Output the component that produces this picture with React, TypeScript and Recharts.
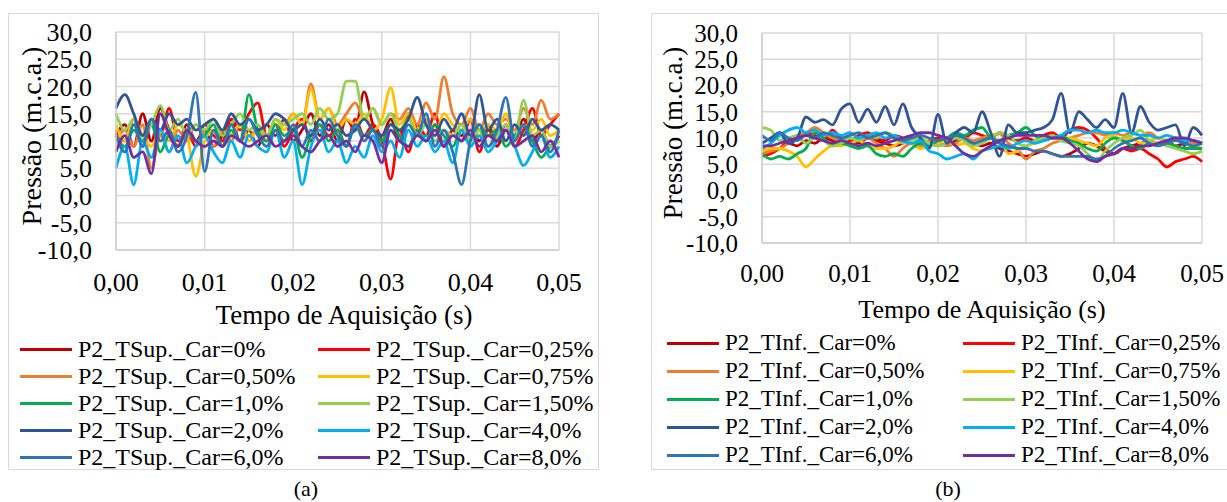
import React from 'react'
import { LineChart, Line, XAxis, YAxis, CartesianGrid, Legend } from 'recharts'

const FONT = '"Liberation Serif", "Times New Roman", serif'

// time axis (s)
const times = [
  0, 0.001, 0.002, 0.003, 0.004, 0.005, 0.006, 0.007, 0.008, 0.009,
  0.01, 0.011, 0.012, 0.013, 0.014, 0.015, 0.016, 0.017, 0.018, 0.019,
  0.02, 0.021, 0.022, 0.023, 0.024, 0.025, 0.026, 0.027, 0.028, 0.029,
  0.03, 0.031, 0.032, 0.033, 0.034, 0.035, 0.036, 0.037, 0.038, 0.039,
  0.04, 0.041, 0.042, 0.043, 0.044, 0.045, 0.046, 0.047, 0.048, 0.049,
  0.05,
]

const xTicks = [0, 0.01, 0.02, 0.03, 0.04, 0.05]
const yTicks = [-10, -5, 0, 5, 10, 15, 20, 25, 30]

const colors = ['#C00000', '#FF0000', '#ED7D31', '#FFC000', '#00B050', '#92D050', '#2F5597', '#00B0F0', '#2E75B6', '#7030A0']
const cargas = ['0%', '0,25%', '0,50%', '0,75%', '1,0%', '1,50%', '2,0%', '4,0%', '6,0%', '8,0%']
const supNames = cargas.map(c => `P2_TSup._Car=${c}`)
const infNames = cargas.map(c => `P2_TInf._Car=${c}`)

// (a) tomada superior
const sup0 = [11, 13, 9, 15, 10, 16, 12, 9, 13, 10, 12, 9, 11, 14, 10, 12, 9, 13, 11, 14, 10, 12, 15, 11, 13, 10, 14, 12, 19, 13, 11, 14, 10, 15, 12, 10, 13, 9, 12, 11, 14, 10, 13, 9, 12, 11, 14, 10, 12, 9, 11]
const sup025 = [12, 10, 14, 9, 13, 11, 16, 10, 12, 9, 13, 11, 10, 14, 12, 15, 17, 11, 13, 9, 12, 14, 10, 13, 11, 12, 9, 14, 11, 13, 10, 3, 12, 8, 13, 11, 15, 9, 12, 10, 14, 8, 12, 10, 13, 9, 12, 16, 11, 13, 15]
const sup050 = [10, 12, 9, 13, 5, 11, 8, 12, 10, 13, 11, 9, 12, 10, 13, 11, 12, 10, 14, 13, 15, 13, 20.5, 14, 16, 13, 15, 17, 14, 16, 13, 15, 14, 16, 13, 17, 14, 21.8, 15, 13, 16, 12, 15, 13, 14, 12, 16, 13, 17.5, 14, 15]
const sup075 = [13, 10, 14, 11, 9, 12, 10, 13, 11, 3.5, 10, 12, 9, 11, 13, 10, 12, 11, 14, 12, 15, 13, 19.5, 14, 16, 12, 14, 13, 15, 12, 14, 19.8, 13, 15, 12, 14, 11, 15, 13, 12, 14, 11, 13, 12, 15, 10, 13, 12, 14, 11, 12]
const sup1 = [11, 9, 12, 10, 13, 8, 11, 9, 12, 10, 11, 13, 9, 12, 10, 18.5, 12, 10, 13, 11, 12, 7, 11, 13, 10, 12, 9, 13, 11, 12, 10, 13, 11, 9, 12, 10, 13, 11, 9, 12, 10, 13, 11, 12, 9, 11, 13, 10, 7, 9, 10]
const sup150 = [15, 12, 14, 11, 13, 16.5, 12, 14, 11, 13, 12, 14, 11, 13, 15, 12, 13, 11, 14, 13, 14, 15, 13, 16, 14, 15, 21, 21, 14, 16, 13, 15, 12, 14, 11, 13, 10, 12, 11, 13, 10, 12, 9, 11, 13, 10, 17.5, 11, 12, 9, 10]
const sup2 = [16, 18.5, 15, 11, 14, 12, 15, 13, 14, 12, 13, 14, 12, 15, 13, 14, 12, 13, 15, 14, 12, 13, 11, 14, 12, 13, 11, 12, 14, 12, 11, 13, 12, 14, 18, 13, 11, 14, 12, 15, 11, 18.5, 12, 14, 10, 13, 11, 14, 12, 13, 12]
const sup4 = [5, 9, 2, 10, 7, 12, 8, 11, 6, 9, 11, 8, 6, 10, 7, 11, 9, 8, 12, 7, 10, 2, 9, 12, 8, 10, 6, 9, 7, 11, 8, 10, 7, 12, 9, 11, 8, 10, 6, 12, 9, 11, 8, 10, 12, 9, 5.5, 8, 11, 7, 9]
const sup6 = [11, 8, 13, 9, 14, 10, 12, 8, 11, 18.9, 4.4, 12, 9, 13, 10, 14, 11, 9, 12, 10, 13, 9, 12, 10, 14, 11, 9, 13, 10, 12, 9, 12, 10, 13, 11, 15, 9, 12, 8, 2, 10, 13, 9, 12, 18, 10, 13, 9, 11, 8, 12]
const sup8 = [8, 11, 7, 8, 4, 15, 11, 9, 12, 10, 9, 10, 9, 11, 10, 9, 10, 11, 9, 10, 11, 9, 8, 10, 11, 9, 10, 8, 11, 10, 6, 12, 10, 9, 11, 10, 12, 9, 11, 10, 12, 9, 11, 10, 12, 9, 10, 11, 8, 10, 7]

// (b) tomada inferior
const inf0 = [7, 7.5, 8, 9, 8.5, 9.5, 9, 10, 9.5, 9, 9.5, 9, 10, 9.5, 9, 8.5, 9, 10, 9.5, 9, 8.5, 9, 9.5, 10, 9, 8.5, 9, 8, 7.5, 7, 6.5, 7, 7.5, 7, 6.5, 7, 8, 9, 8.5, 7.5, 7, 8, 8.5, 9, 9.5, 9, 9.5, 8.5, 9, 9.5, 9]
const inf025 = [6.5, 7, 8, 9.5, 10, 11, 10.5, 9.5, 11.5, 10, 9.5, 10.5, 11, 10, 9.5, 10.5, 10, 9, 8.5, 9.5, 10, 9.5, 10.5, 10, 11, 10.5, 10, 11, 10, 9.5, 10, 9.5, 10.5, 11, 10, 11.5, 12, 11.5, 10, 8, 7, 8, 7.5, 8, 7, 6, 4.5, 5.5, 6, 6.5, 5.5]
const inf050 = [7, 7.5, 8, 9, 10.5, 11, 12, 11, 10, 9.5, 10, 9.5, 10, 9, 8, 6.5, 8, 9, 8.5, 9.5, 9, 8.5, 9, 10, 9.5, 10, 10.5, 10.8, 9, 8, 6, 7.5, 8, 9, 9.5, 10, 10.5, 11, 11, 10.5, 11, 10.5, 11, 10.5, 11, 10, 9.5, 10, 9.5, 9, 9]
const inf075 = [7.5, 8, 8, 7.5, 6.5, 4.5, 6, 7.5, 8.5, 8.5, 9, 9.5, 8.5, 8, 8, 8.5, 9.5, 9, 8, 8.5, 9, 9.5, 8.5, 9, 8, 7.5, 8.5, 9.5, 7, 7.5, 8.5, 9, 9.5, 10, 9.5, 10, 9.5, 9, 8.5, 10, 10.5, 9.5, 10, 9, 9.5, 10, 9, 8.5, 8, 8.5, 8]
const inf1 = [7, 6, 6.5, 6, 7, 8, 11, 10, 8.5, 9, 8.5, 8, 8.5, 7, 6.5, 7, 6.5, 8, 9, 8.5, 9.5, 10, 11, 10.5, 11.5, 12, 10, 9.5, 10.5, 11, 12, 10.5, 9.5, 10, 10.5, 9.5, 9, 8, 7.5, 9, 10, 9.5, 8.5, 8, 9, 8.5, 9, 8.5, 8, 8, 8]
const inf150 = [12, 11.5, 9.5, 10, 10.5, 9, 10, 9.5, 8.5, 9, 10, 9.5, 10.5, 10, 11, 10.5, 9, 9.5, 10, 9, 8.5, 9, 10, 9.5, 8.5, 9, 10, 11, 10.5, 9, 8.5, 9.5, 10, 10.5, 9.5, 9, 8.5, 7, 5.5, 7.5, 9, 10, 10.5, 11.5, 9.5, 9, 8.5, 8, 7.5, 7, 7.5]
const inf2 = [9, 10, 11, 9, 10, 14, 13, 13.5, 12.5, 15.5, 16.5, 13, 15.5, 13, 16, 12.5, 16.5, 12, 10, 8, 14.5, 9, 11, 12, 11, 15, 11, 6.5, 12.5, 11, 11, 11.5, 12, 13.5, 18.5, 11, 15, 13.5, 12, 13.5, 12, 18.5, 11, 16, 13, 11.5, 12, 12.5, 8.5, 12, 10.5]
const inf4 = [8, 9, 10.5, 11.5, 12, 11, 11.5, 10.5, 11, 10.5, 11, 10, 10.5, 11, 10, 10.5, 9.5, 9, 9.5, 7.5, 7, 6, 6.5, 7, 6, 7.5, 8, 8.5, 8, 9, 9.5, 9, 9.5, 10, 10.5, 11.5, 11.5, 11, 11.5, 11, 11, 11.5, 11, 10.5, 10.5, 10, 10.5, 10, 9.5, 9.5, 9]
const inf6 = [10.5, 9.5, 11, 10, 9.5, 10.5, 10, 11, 10.5, 10, 10.5, 11, 10, 10.5, 11, 10, 9.5, 10, 10.5, 10, 9.5, 10, 10.5, 10, 9, 9.5, 10, 9, 8.5, 8, 8, 7.5, 7.5, 7, 6.5, 6.5, 6.5, 6.5, 6, 6.5, 8, 9, 9.5, 10, 9, 8.5, 9, 9.5, 9, 8.5, 9]
const inf8 = [8.5, 8.5, 9, 9.5, 10, 10.5, 10, 9.5, 9, 9.5, 9, 8.5, 9, 8.5, 9, 9.5, 10, 10.5, 11, 11, 10.5, 10, 8.5, 7, 6.5, 7.5, 8.5, 9.5, 10, 10.5, 10.5, 10.5, 10.5, 10, 10, 9, 7.5, 6, 5.5, 6.5, 7, 8, 8, 8.5, 8.5, 9, 9.5, 10, 10, 9.5, 9]

const supSeries = [sup0, sup025, sup050, sup075, sup1, sup150, sup2, sup4, sup6, sup8]
const infSeries = [inf0, inf025, inf050, inf075, inf1, inf150, inf2, inf4, inf6, inf8]

const keys = ['s0', 's1', 's2', 's3', 's4', 's5', 's6', 's7', 's8', 's9']

function buildRows(series: number[][]) {
  return times.map((t, i) => {
    const row: Record<string, number> = { t }
    series.forEach((s, k) => { row[keys[k]] = s[i] })
    return row
  })
}

const supData = buildRows(supSeries)
const infData = buildRows(infSeries)

const fmtX = (v: number) => v.toFixed(2).replace('.', ',')
const fmtY = (v: number) => v.toFixed(1).replace('.', ',')

const gridColor = '#d9d9d9'

interface PanelProps {
  data: Record<string, number>[]
  names: string[]
  left: number
  width: number
  margin: { top: number; right: number; left: number; bottom: number }
  yAxisWidth: number
  xTickMargin: number
  tickFont: number
  xTitle: { x: number; y: number; size: number }
  yTitle: { x: number; y: number; size: number }
  legendPos: { left: number; top: number; colWidth: number; rowHeight: number; font: number }
}

function Panel({ data, names, left, width, margin, yAxisWidth, xTickMargin, tickFont, xTitle, yTitle, legendPos }: PanelProps) {
  const tickStyle = { fill: '#000', fontSize: tickFont, fontFamily: FONT }
  return (
    <div style={{ position: 'absolute', left, top: 0, width, height: 480 }}>
      <LineChart width={width} height={480} data={data} margin={margin}>
        <CartesianGrid stroke={gridColor} strokeWidth={1.5} />
        <XAxis
          dataKey="t"
          type="number"
          domain={[0, 0.05]}
          ticks={xTicks}
          interval={0}
          tickFormatter={fmtX}
          tickSize={0}
          tickMargin={xTickMargin}
          height={80}
          axisLine={{ stroke: '#cfcfcf', strokeWidth: 1.5 }}
          tick={tickStyle}
        />
        <YAxis
          type="number"
          domain={[-10, 30]}
          ticks={yTicks}
          interval={0}
          tickFormatter={fmtY}
          width={yAxisWidth}
          tickSize={0}
          tickMargin={24}
          axisLine={{ stroke: '#cfcfcf', strokeWidth: 1.5 }}
          tick={tickStyle}
        />
        <Legend
          layout="vertical"
          align="center"
          verticalAlign="middle"
          wrapperStyle={{ left: legendPos.left, top: legendPos.top, width: width - legendPos.left }}
          content={() => (
            <div style={{ display: 'grid', gridTemplateColumns: `${legendPos.colWidth}px auto`, fontFamily: FONT, fontSize: legendPos.font, lineHeight: `${legendPos.rowHeight}px`, color: '#000' }}>
              {names.map((n, i) => (
                <div key={n} style={{ display: 'flex', alignItems: 'center', whiteSpace: 'nowrap' }}>
                  <span style={{ display: 'inline-block', width: 52, height: 3, background: colors[i], marginRight: 6 }} />
                  <span>{n}</span>
                </div>
              ))}
            </div>
          )}
        />
        {keys.map((k, i) => (
          <Line
            key={k}
            type="monotone"
            dataKey={k}
            name={names[i]}
            stroke={colors[i]}
            strokeWidth={2.8}
            dot={false}
            activeDot={false}
            isAnimationActive={false}
          />
        ))}
      </LineChart>
      <div style={{ position: 'absolute', left: xTitle.x - 200, top: xTitle.y - xTitle.size, width: 400, textAlign: 'center', fontSize: xTitle.size, lineHeight: `${xTitle.size * 1.2}px`, whiteSpace: 'nowrap' }}>
        Tempo de Aquisição (s)
      </div>
      <div style={{ position: 'absolute', left: yTitle.x - 150, top: yTitle.y - 20, width: 300, height: 40, lineHeight: '40px', textAlign: 'center', fontSize: yTitle.size, transform: 'rotate(-90deg)', whiteSpace: 'nowrap' }}>
        Pressão (m.c.a.)
      </div>
    </div>
  )
}

export default function App() {
  return (
    <div style={{ position: 'absolute', left: 0, top: 0, width: 1227, height: 502, overflow: 'hidden', background: '#fff', fontFamily: FONT, color: '#000' }}>
      <div style={{ position: 'absolute', left: 8, top: 13, width: 591, height: 457, border: '1px solid #d9d9d9', boxSizing: 'border-box' }} />
      <div style={{ position: 'absolute', left: 651, top: 13, width: 620, height: 457, border: '1px solid #d9d9d9', boxSizing: 'border-box' }} />

      <Panel
        data={supData}
        names={supNames}
        left={0}
        width={600}
        margin={{ top: 32, right: 41, left: 0, bottom: 150 }}
        yAxisWidth={116}
        xTickMargin={23}
        tickFont={26}
        xTitle={{ x: 344, y: 326, size: 27 }}
        yTitle={{ x: 32, y: 136, size: 28 }}
        legendPos={{ left: 20, top: 336, colWidth: 298, rowHeight: 27, font: 24 }}
      />
      <Panel
        data={infData}
        names={infNames}
        left={640}
        width={587}
        margin={{ top: 33, right: 25, left: 0, bottom: 157 }}
        yAxisWidth={122}
        xTickMargin={21}
        tickFont={25}
        xTitle={{ x: 342, y: 320, size: 26 }}
        yTitle={{ x: 33, y: 133, size: 27 }}
        legendPos={{ left: 27, top: 329, colWidth: 296, rowHeight: 28, font: 23 }}
      />

      <div style={{ position: 'absolute', left: 286, top: 478, width: 40, textAlign: 'center', fontSize: 22, lineHeight: '22px' }}>(a)</div>
      <div style={{ position: 'absolute', left: 928, top: 478, width: 40, textAlign: 'center', fontSize: 22, lineHeight: '22px' }}>(b)</div>
    </div>
  )
}
